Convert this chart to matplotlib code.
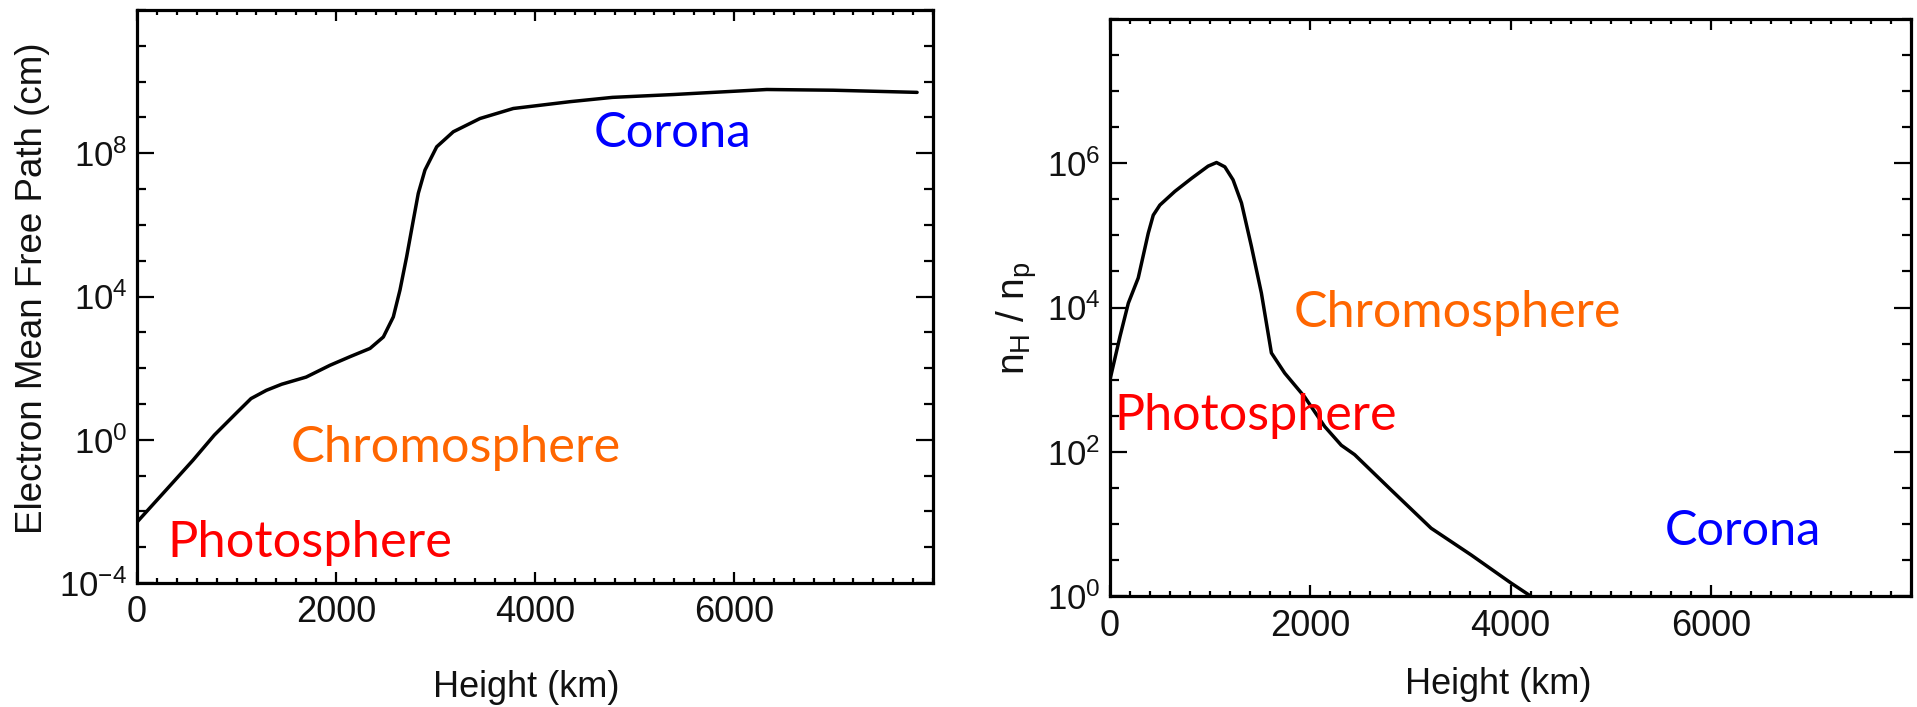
import matplotlib
matplotlib.use('Agg')
import matplotlib.pyplot as plt
from matplotlib.ticker import FixedLocator, FixedFormatter, NullFormatter
import numpy as np

# ---------------- data ----------------
# Left panel: electron mean free path (cm), stored as log10 values
height_mfp = [0, 300, 563, 777, 1000, 1146, 1300, 1454, 1700, 1940, 2141, 2342,
              2476, 2576, 2643, 2710, 2777, 2827, 2894, 3012, 3179, 3447, 3782,
              4352, 4778, 5395, 5658, 6330, 7000, 7840]
log_mfp = [-2.30, -1.38, -0.57, 0.13, 0.75, 1.15, 1.38, 1.55, 1.75, 2.08, 2.32, 2.55,
           2.87, 3.43, 4.18, 5.11, 6.13, 6.88, 7.53, 8.18, 8.60, 8.97, 9.25,
           9.44, 9.56, 9.64, 9.68, 9.78, 9.76, 9.70]

# Right panel: n_H / n_p, stored as log10 values
height_ratio = [0, 100, 183, 282, 382, 432, 498, 648, 814, 980, 1064, 1147, 1229,
                1313, 1412, 1512, 1612, 1745, 1944, 2144, 2310, 2443, 2808, 3207,
                3606, 4005, 4200]
log_ratio = [3.00, 3.60, 4.06, 4.41, 5.03, 5.28, 5.42, 5.61, 5.79, 5.96, 6.01, 5.95, 5.77,
             5.45, 4.85, 4.20, 3.37, 3.09, 2.76, 2.35, 2.09, 1.96, 1.47, 0.94,
             0.57, 0.18, 0.00]

x_major = [0, 2000, 4000, 6000]
x_labels = ['0', '2000', '4000', '6000']
left_y_major_exp = [-4, 0, 4, 8]
right_y_major_exp = [0, 2, 4, 6]

region_names = ['Photosphere', 'Chromosphere', 'Corona']
region_colors = ['#FF0000', '#FF6600', '#0000FF']

# ---------------- style ----------------
plt.rcParams['font.family'] = ['Liberation Sans', 'DejaVu Sans']
plt.rcParams['mathtext.fontset'] = 'custom'
plt.rcParams['mathtext.rm'] = 'Liberation Sans'
plt.rcParams['mathtext.it'] = 'Liberation Sans:italic'
plt.rcParams['mathtext.bf'] = 'Liberation Sans:bold'
plt.rcParams['mathtext.default'] = 'regular'

W, H = 1917, 707
fig = plt.figure(figsize=(W / 100, H / 100), dpi=100)
fig.patch.set_facecolor('white')


def px_axes(x0, y0, x1, y1):
    return fig.add_axes([x0 / W, 1 - y1 / H, (x1 - x0) / W, (y1 - y0) / H])


ax1 = px_axes(137, 10, 933, 583)
ax2 = px_axes(1110, 19, 1911, 596)


def style_axes(ax, ymin_exp, ymax_exp, major_exp, minor_step):
    ax.set_yscale('log')
    ax.set_xlim(0, 8000)
    ax.set_ylim(10.0 ** ymin_exp, 10.0 ** ymax_exp)
    ax.xaxis.set_major_locator(FixedLocator(x_major))
    ax.xaxis.set_major_formatter(FixedFormatter(x_labels))
    ax.xaxis.set_minor_locator(FixedLocator(np.arange(0, 8001, 200)))
    ax.xaxis.set_minor_formatter(NullFormatter())
    ax.yaxis.set_major_locator(FixedLocator([10.0 ** e for e in major_exp]))
    ax.yaxis.set_major_formatter(FixedFormatter([r'$10^{%d}$' % e for e in major_exp]))
    minors = [10.0 ** e for e in np.arange(ymin_exp, ymax_exp + 1e-9, minor_step)]
    ax.yaxis.set_minor_locator(FixedLocator(minors))
    ax.yaxis.set_minor_formatter(NullFormatter())
    for sp in ax.spines.values():
        sp.set_linewidth(2.3)
        sp.set_color('black')
    ax.tick_params(which='both', direction='in', top=True, right=True,
                   width=1.6, color='black')
    ax.tick_params(axis='x', which='major', length=8, labelsize=26, pad=9,
                   labelcolor='#111111')
    ax.tick_params(axis='x', which='minor', length=3.6)
    ax.tick_params(axis='y', which='major', length=12, labelsize=25, pad=7,
                   labelcolor='#111111')
    ax.tick_params(axis='y', which='minor', length=6.5)


style_axes(ax1, -4, 12, left_y_major_exp, 1.0)
style_axes(ax2, 0, 8, right_y_major_exp, 0.5)

ax1.plot(height_mfp, 10.0 ** np.array(log_mfp), color='black', lw=2.5,
         solid_joinstyle='round', solid_capstyle='round')
ax2.plot(height_ratio, 10.0 ** np.array(log_ratio), color='black', lw=2.5,
         solid_joinstyle='round', solid_capstyle='round')

# axis labels (placed in figure pixels)
fig.text(33 / W, 1 - 288 / H, 'Electron Mean Free Path (cm)', rotation=90,
         ha='center', va='center', fontsize=26.5, color='#111111')
fig.text(1017 / W, 1 - 318 / H, r'n$_{\rm H}$ / n$_{\rm p}$', rotation=90,
         ha='center', va='center', fontsize=28, color='#111111')
fig.text(526 / W, 1 - 697 / H, 'Height (km)', ha='center', va='baseline',
         fontsize=26, color='#111111')
fig.text(1498 / W, 1 - 694 / H, 'Height (km)', ha='center', va='baseline',
         fontsize=26, color='#111111')

# region annotations, sized to match the reference widths
renderer = fig.canvas.get_renderer()


def region_label(idx, x_px, y_px, target_w):
    t = fig.text(x_px / W, 1 - y_px / H, region_names[idx], color=region_colors[idx],
                 family=['Lato', 'DejaVu Sans'], fontsize=36, ha='left', va='baseline')
    w = t.get_window_extent(renderer).width
    t.set_fontsize(36 * target_w / w)
    return t


# left panel
region_label(0, 167, 557, 285)
region_label(1, 291, 462, 330)
region_label(2, 594, 147, 158)
# right panel
region_label(0, 1114, 430, 283)
region_label(1, 1294, 327, 328)
region_label(2, 1665, 545, 157)

fig.savefig('out.png', dpi=100, facecolor='white')
